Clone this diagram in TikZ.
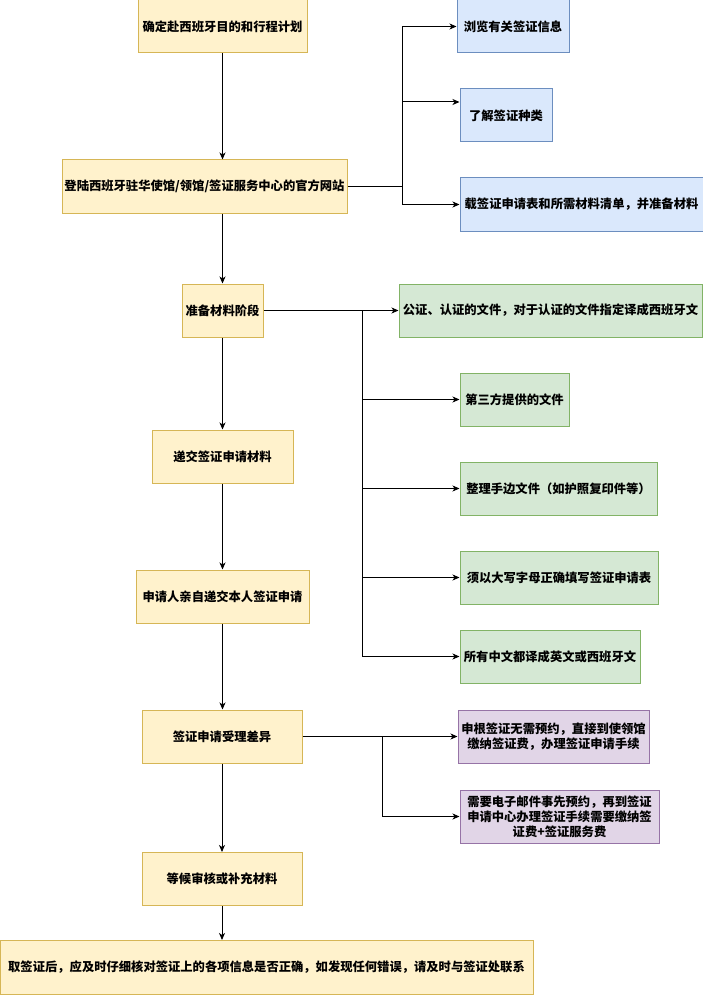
\documentclass[tikz,border=0pt]{standalone}
\usepackage{fontspec}
\newfontfamily\cjk{Noto Sans CJK SC}
\usetikzlibrary{calc, positioning}
\usetikzlibrary{arrows.meta}

\definecolor{yfill}{HTML}{FFF2CC}
\definecolor{ydraw}{HTML}{D6B656}
\definecolor{bfill}{HTML}{DAE8FC}
\definecolor{bdraw}{HTML}{6C8EBF}
\definecolor{gfill}{HTML}{D5E8D4}
\definecolor{gdraw}{HTML}{82B366}
\definecolor{pfill}{HTML}{E1D5E7}
\definecolor{pdraw}{HTML}{9673A6}

\begin{document}
\begin{tikzpicture}[x=1pt, y=-1pt,
  box/.style={draw, line width=1pt, minimum height=53pt, inner sep=2pt, align=center,
    font=\cjk\fontsize{12.3}{15}\selectfont\bfseries},
  ybox/.style={box, fill=yfill, draw=ydraw},
  bbox/.style={box, fill=bfill, draw=bdraw},
  gbox/.style={box, fill=gfill, draw=gdraw},
  pbox/.style={box, fill=pfill, draw=pdraw},
  arr/.style={-{Stealth[length=7pt, width=6pt, inset=2pt]}, line width=1pt}]
\useasboundingbox (0,0) rectangle (703,995);

% main steps
\node[ybox, minimum width=169pt] (plan) at (222.5,26.5) {确定赴西班牙目的和行程计划};
\node[ybox, minimum width=285pt] (site) at (204.5,186.5) {登陆西班牙驻华使馆/领馆/签证服务中心的官方网站};
\node[ybox, minimum width=81pt] (prep) at (222.5,310.5) {准备材料阶段};
\node[ybox, minimum width=141pt] (submit) at (222.5,456.5) {递交签证申请材料};
\node[ybox, minimum width=173pt] (person) at (222.5,596.5) {申请人亲自递交本人签证申请};
\node[ybox, minimum width=160pt] (diff) at (222,736.5) {签证申请受理差异};
\node[ybox, minimum width=160pt] (wait) at (222,879) {等候审核或补充材料};
\node[ybox, minimum width=533pt, minimum height=54pt] (check) at (266.5,967.5) {取签证后，应及时仔细核对签证上的各项信息是否正确，如发现任何错误，请及时与签证处联系};

% website
\node[bbox, minimum width=112pt] (browse) at (513,26.5) {浏览有关签证信息};
\node[bbox, minimum width=92pt] (kinds) at (506,115.5) {了解签证种类};
\node[bbox, minimum width=243pt] (form) at (581.5,204.5) {载签证申请表和所需材料清单，并准备材料};

% materials
\node[gbox, minimum width=303pt] (notar) at (550.5,310.5) {公证、认证的文件，对于认证的文件指定译成西班牙文};
\node[gbox, minimum width=109pt] (third) at (514.5,399.5) {第三方提供的文件};
\node[gbox, minimum width=197pt] (copies) at (558.5,488.5) {整理手边文件（如护照复印件等）};
\node[gbox, minimum width=198pt] (caps) at (559,577.5) {须以大写字母正确填写签证申请表};
\node[gbox, minimum width=180pt] (transl) at (550,656.5) {所有中文都译成英文或西班牙文};

% processing
\node[pbox, minimum width=191pt] (direct) at (553.5,736.5) {申根签证无需预约，直接到使领馆\\缴纳签证费，办理签证申请手续};
\node[pbox, minimum width=199pt] (email) at (559.5,816.5) {需要电子邮件事先预约，再到签证\\申请中心办理签证手续需要缴纳签\\证费+签证服务费};

\coordinate (j1) at (402,186.5);
\coordinate (j2) at (362,310.5);
\coordinate (j3) at (382,736.5);
\coordinate (kin) at ($(kinds.north west)!0.25!(kinds.south west)$);

% main flow
\draw[arr] (plan.south) -- (plan.south |- site.north);
\draw[arr] (site.south -| plan.south) -- (prep.north);
\draw[arr] (prep) -- (submit);
\draw[arr] (submit) -- (person);
\draw[arr] (person.south) -- (person.south |- diff.north);
\draw[arr] (diff) -- (wait);
\draw[arr] (wait.south) -- (wait.south |- check.north);

% branches
\draw[line width=1pt] (site.east) -- (j1);
\draw[arr] (j1) |- (browse.west);
\draw[arr] (j1) |- (kin);
\draw[arr] (j1) |- (form.west);

\draw[line width=1pt] (prep.east) -- (j2);
\draw[arr] (j2) -- (notar.west);
\draw[arr] (j2) |- (third.west);
\draw[arr] (j2) |- (copies.west);
\draw[arr] (j2) |- (caps.west);
\draw[arr] (j2) |- (transl.west);

\draw[line width=1pt] (diff.east) -- (j3);
\draw[arr] (j3) -- (direct.west);
\draw[arr] (j3) |- (email.west);
\end{tikzpicture}
\end{document}
